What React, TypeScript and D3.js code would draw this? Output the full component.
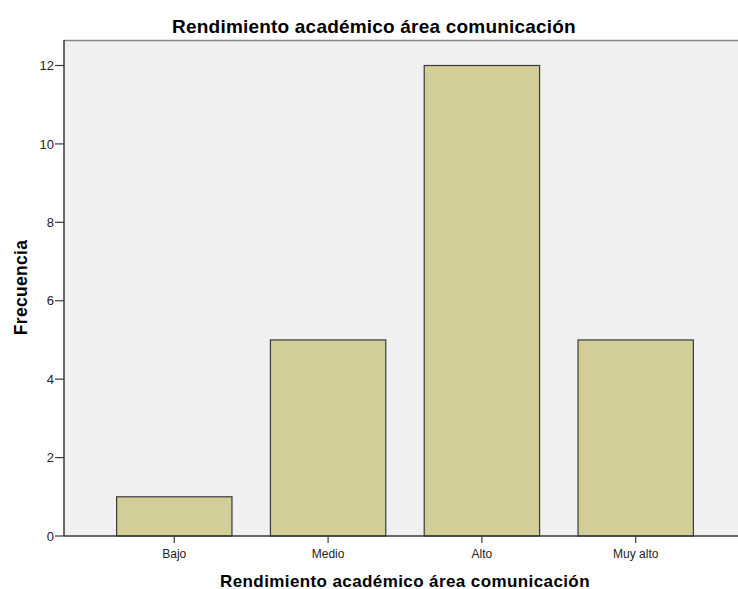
import React from "react";
import * as d3 from "d3";

const categories = ["Bajo", "Medio", "Alto", "Muy alto"];
const frequencies = [1, 5, 12, 5];
const yTicks = [0, 2, 4, 6, 8, 10, 12];
const title = "Rendimiento académico área comunicación";
const xLabel = "Rendimiento académico área comunicación";
const yLabel = "Frecuencia";

export default function App() {
  const W = 738, H = 589;
  const left = 64, top = 40, bottom = 536, right = 746;
  const x = d3.scaleBand<string>().domain(categories).range([left, right]).paddingInner(0.25).paddingOuter(0.342);
  const y = d3.scaleLinear().domain([0, 12]).range([bottom, 65.5]);
  const font = "Arial, 'Liberation Sans', sans-serif";
  return (
    <svg width={W} height={H} style={{ position: "absolute", left: 0, top: 0, background: "#fff" }} fontFamily={font}>
      <rect x={left} y={top} width={W - left} height={bottom - top} fill="#f0f0f0" />
      <line x1={left} x2={W} y1={top + 0.5} y2={top + 0.5} stroke="#888" strokeWidth={1.5} />
      {categories.map((c, i) => (
        <rect key={c} x={x(c)!} y={y(frequencies[i])} width={x.bandwidth()} height={bottom - y(frequencies[i])}
          fill="#d3ce97" stroke="#3a3a3a" strokeWidth={1.2} />
      ))}
      <line x1={left} x2={left} y1={top} y2={bottom} stroke="#3a3a3a" strokeWidth={1.5} />
      <line x1={left} x2={W} y1={bottom} y2={bottom} stroke="#3a3a3a" strokeWidth={1.5} />
      {yTicks.map(t => (
        <g key={t}>
          <line x1={left - 9} x2={left} y1={y(t)} y2={y(t)} stroke="#3a3a3a" strokeWidth={1.2} />
          <text x={left - 10} y={y(t)} dy="0.36em" textAnchor="end" fontSize={13} fill="#222">{t}</text>
        </g>
      ))}
      {categories.map(c => {
        const cx = x(c)! + x.bandwidth() / 2;
        return (
          <g key={c}>
            <line x1={cx} x2={cx} y1={bottom} y2={bottom + 7} stroke="#3a3a3a" strokeWidth={1.2} />
            <text x={cx} y={557.5} textAnchor="middle" fontSize={12} fill="#222">{c}</text>
          </g>
        );
      })}
      <text x={374} y={32.5} textAnchor="middle" fontSize={19} fontWeight="bold" letterSpacing={0.2} fill="#000">{title}</text>
      <text x={405} y={586.5} textAnchor="middle" fontSize={17} fontWeight="bold" letterSpacing={0.4} fill="#000">{xLabel}</text>
      <text transform={`translate(27,287.5) rotate(-90)`} textAnchor="middle" fontSize={17.5} fontWeight="bold" letterSpacing={0.3} fill="#000">{yLabel}</text>
    </svg>
  );
}
